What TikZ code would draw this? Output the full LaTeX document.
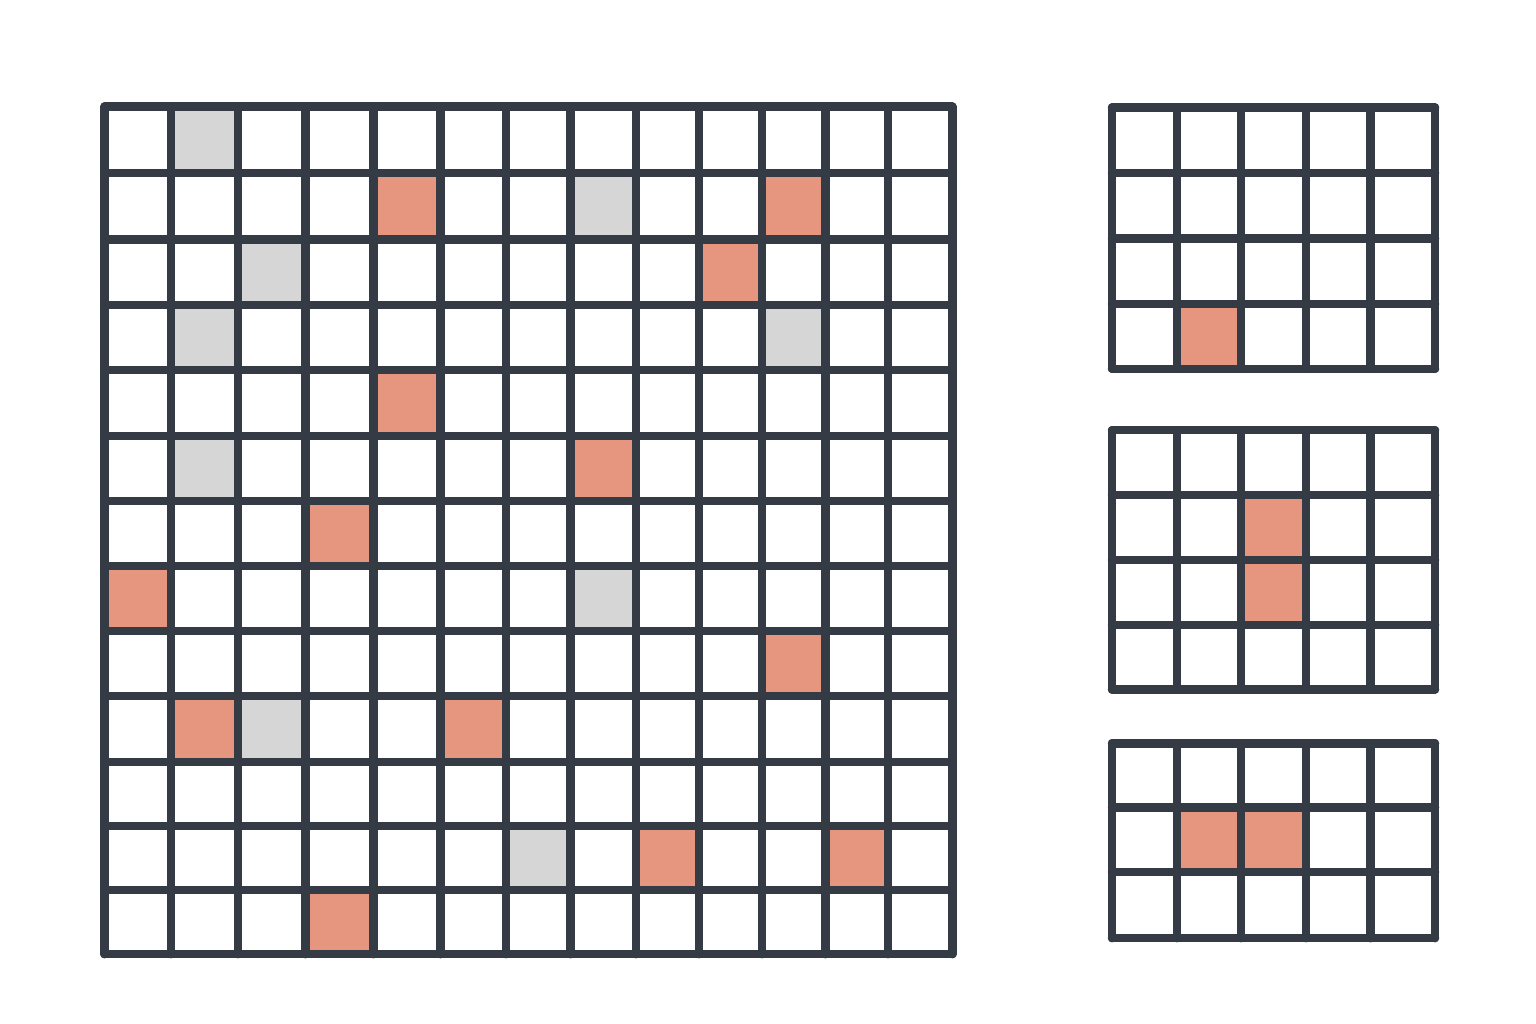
\documentclass[tikz,border=0pt]{standalone}
\definecolor{gridline}{HTML}{343B45}
\definecolor{hit}{HTML}{E6957E}
\definecolor{miss}{HTML}{D6D6D6}
\tikzset{
  gridpen/.style={draw=gridline,line width=8.5pt,line cap=round,line join=round},
  hitcell/.style={fill=hit},
  misscell/.style={fill=miss}
}
% #1 style, #2 x-array, #3 y-array, #4 row, #5 col
\newcommand{\cellfill}[5]{%
  \pgfmathsetmacro{\xa}{#2[#5]}\pgfmathsetmacro{\xb}{#2[#5+1]}%
  \pgfmathsetmacro{\ya}{#3[#4]}\pgfmathsetmacro{\yb}{#3[#4+1]}%
  \fill[#1] (\xa,\ya) rectangle (\xb,\yb);}
% #1 x-list, #2 y-list, #3 left, #4 right, #5 top, #6 bottom
\newcommand{\gridlines}[6]{%
  \foreach \x in {#1}{\draw[gridpen] (\x,#5) -- (\x,#6);}
  \foreach \y in {#2}{\draw[gridpen] (#3,\y) -- (#4,\y);}}
\begin{document}
\begin{tikzpicture}[x=1pt,y=-1pt]
\useasboundingbox[fill=white] (0,0) rectangle (1536,1024);
% big grid
\def\BX{{104.5,171,238,305.5,373.7,440.3,506,570.3,635.8,699,762,825.5,888,952.3}}
\def\BY{{106.7,173.2,239.5,305,370.2,435.8,500.8,565.8,630.8,695.8,761.8,825.8,890.2,954.2}}
\foreach \r/\c in {1/4,1/10,2/9,4/4,5/7,6/3,7/0,8/10,9/1,9/5,11/8,11/11,12/3}
  {\cellfill{hitcell}{\BX}{\BY}{\r}{\c}}
\foreach \r/\c in {0/1,1/7,2/2,3/1,3/10,5/1,7/7,9/2,11/6}
  {\cellfill{misscell}{\BX}{\BY}{\r}{\c}}
\gridlines{104.5,171,238,305.5,373.7,440.3,506,570.3,635.8,699,762,825.5,888,952.3}
          {106.7,173.2,239.5,305,370.2,435.8,500.8,565.8,630.8,695.8,761.8,825.8,890.2,954.2}
          {104.5}{952.3}{106.7}{954.2}
% small grids share columns
\def\SX{{1112,1177,1241,1306,1370.3,1435}}
% small grid 1
\def\SYa{{107.5,173.2,238.5,304.2,368.8}}
\cellfill{hitcell}{\SX}{\SYa}{3}{1}
\gridlines{1112,1177,1241,1306,1370.3,1435}{107.5,173.2,238.5,304.2,368.8}{1112}{1435}{107.5}{368.8}
% small grid 2
\def\SYb{{430.2,495.2,560,625.2,689.5}}
\cellfill{hitcell}{\SX}{\SYb}{1}{2}
\cellfill{hitcell}{\SX}{\SYb}{2}{2}
\gridlines{1112,1177,1241,1306,1370.3,1435}{430.2,495.2,560,625.2,689.5}{1112}{1435}{430.2}{689.5}
% small grid 3
\def\SYc{{743.3,807.5,872.2,938.2}}
\cellfill{hitcell}{\SX}{\SYc}{1}{1}
\cellfill{hitcell}{\SX}{\SYc}{1}{2}
\gridlines{1112,1177,1241,1306,1370.3,1435}{743.3,807.5,872.2,938.2}{1112}{1435}{743.3}{938.2}
\end{tikzpicture}
\end{document}
